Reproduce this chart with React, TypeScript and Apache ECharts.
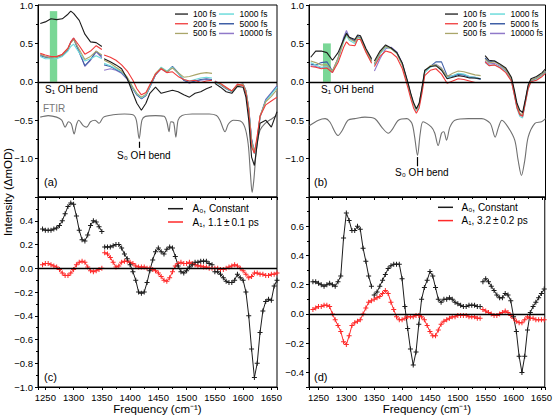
import React, { useEffect, useRef } from "react";
import * as echarts from "echarts";

// ---------- Panel (a) transient spectra ----------
const aX1 = [1241, 1250, 1260, 1270, 1280, 1290, 1295, 1300, 1310, 1320, 1330, 1340, 1350];
const aX2 = [1354, 1365, 1375, 1385, 1395, 1405, 1412, 1420, 1428, 1435, 1445, 1455, 1465, 1475, 1485, 1495, 1505, 1515, 1525, 1535, 1545];
const aX3 = [1550, 1560, 1570, 1580, 1590, 1600, 1605, 1610, 1615, 1620, 1625, 1630, 1640, 1650, 1660];

const a100_1 = [0.76, 0.78, 0.82, 0.81, 0.82, 0.88, 0.92, 0.89, 0.80, 0.62, 0.52, 0.51, 0.46];
const a200_1 = [0.37, 0.35, 0.33, 0.33, 0.36, 0.44, 0.52, 0.57, 0.47, 0.36, 0.40, 0.47, 0.42];
const a500_1 = [0.36, 0.33, 0.31, 0.32, 0.35, 0.43, 0.51, 0.55, 0.42, 0.29, 0.33, 0.40, 0.35];
const a1000_1 = [0.33, 0.30, 0.30, 0.30, 0.33, 0.40, 0.46, 0.49, 0.38, 0.27, 0.30, 0.34, 0.30];
const a5000_1 = [0.34, 0.32, 0.31, 0.32, 0.34, 0.42, 0.51, 0.56, 0.38, 0.21, 0.29, 0.40, 0.33];
const a10000_1 = [0.35, 0.33, 0.32, 0.33, 0.35, 0.43, 0.52, 0.57, 0.40, 0.20, 0.28, 0.39, 0.31];

const a100_2 = [0.30, 0.26, 0.22, 0.17, 0.04, -0.15, -0.28, -0.37, -0.28, -0.15, -0.07, -0.15, -0.13, -0.11, -0.13, -0.17, -0.20, -0.15, -0.13, -0.09, -0.06];
const a200_2 = [0.35, 0.32, 0.28, 0.22, 0.14, 0.02, -0.09, -0.17, -0.14, -0.04, 0.10, 0.17, 0.12, 0.13, 0.07, 0.03, 0.01, 0.02, -0.01, 0.01, 0.02];
const a500_2 = [0.28, 0.24, 0.19, 0.14, 0.06, -0.07, -0.15, -0.20, -0.16, -0.05, 0.11, 0.18, 0.13, 0.18, 0.12, 0.06, 0.07, 0.09, 0.11, 0.12, 0.11];
const a1000_2 = [0.24, 0.21, 0.17, 0.13, 0.05, -0.08, -0.16, -0.21, -0.17, -0.06, 0.10, 0.19, 0.14, 0.19, 0.11, 0.03, 0.01, 0.03, 0.05, 0.06, 0.05];
const a5000_2 = [0.22, 0.20, 0.16, 0.12, 0.04, -0.09, -0.17, -0.22, -0.18, -0.07, 0.09, 0.18, 0.13, 0.20, 0.12, 0.02, -0.01, 0.01, 0.03, 0.04, 0.03];
const a10000_2 = [0.15, 0.17, 0.15, 0.11, 0.03, -0.09, -0.17, -0.22, -0.18, -0.07, 0.09, 0.17, 0.12, 0.19, 0.11, 0.02, -0.02, 0.01, 0.02, 0.03, 0.02];

const a100_3 = [-0.02, -0.07, -0.13, -0.15, -0.06, -0.07, -0.20, -0.50, -0.98, -1.09, -0.81, -0.54, -0.50, -0.59, -0.39];
const a200_3 = [0.00, -0.02, -0.07, -0.12, -0.03, -0.05, -0.15, -0.40, -0.85, -0.93, -0.70, -0.45, -0.30, -0.25, -0.20];
const a500_3 = [0.00, -0.03, -0.08, -0.12, -0.05, -0.03, -0.12, -0.35, -0.78, -0.92, -0.74, -0.44, -0.26, -0.19, -0.10];
const a1000_3 = [-0.01, -0.03, -0.08, -0.13, -0.05, -0.04, -0.13, -0.36, -0.78, -0.94, -0.76, -0.46, -0.25, -0.16, -0.07];
const a5000_3 = [0.00, -0.04, -0.09, -0.13, -0.05, -0.03, -0.12, -0.35, -0.75, -0.93, -0.77, -0.46, -0.24, -0.15, -0.06];
const a10000_3 = [0.01, -0.03, -0.08, -0.12, -0.04, -0.03, -0.11, -0.34, -0.74, -0.91, -0.75, -0.45, -0.23, -0.14, -0.05];

const ftirAX = [1241, 1255, 1270, 1279, 1285, 1291, 1296, 1301, 1305, 1309, 1317, 1323, 1330, 1338, 1345, 1353, 1370, 1390, 1405, 1411, 1416, 1421, 1427, 1445, 1460, 1465, 1469, 1472, 1477, 1481, 1485, 1492, 1510, 1540, 1553, 1559, 1568, 1574, 1583, 1595, 1603, 1609, 1613, 1616, 1619, 1624, 1630, 1639, 1651, 1660];
const ftirA = [-0.46, -0.44, -0.46, -0.50, -0.59, -0.52, -0.55, -0.68, -0.56, -0.50, -0.57, -0.59, -0.52, -0.50, -0.54, -0.46, -0.43, -0.42, -0.43, -0.50, -0.74, -0.50, -0.45, -0.44, -0.45, -0.52, -0.65, -0.52, -0.53, -0.72, -0.50, -0.44, -0.42, -0.42, -0.44, -0.50, -0.65, -0.55, -0.50, -0.51, -0.59, -0.81, -1.20, -1.44, -1.28, -0.85, -0.63, -0.54, -0.48, -0.44];

// ---------- Panel (b) transient spectra ----------
const bX1 = [1236, 1245, 1255, 1265, 1275, 1285, 1295, 1300, 1305, 1315, 1320, 1325, 1335, 1345];
const bX2 = [1350, 1360, 1370, 1380, 1390, 1400, 1410, 1415, 1420, 1425, 1430, 1435, 1440, 1450, 1460, 1470, 1480, 1490, 1500, 1510, 1520, 1530, 1540];
const bX3 = [1548, 1555, 1565, 1575, 1585, 1595, 1600, 1605, 1610, 1615, 1620, 1625, 1630, 1640, 1650, 1656];

const b100_1 = [0.32, 0.40, 0.40, 0.38, 0.28, 0.38, 0.55, 0.63, 0.58, 0.55, 0.61, 0.60, 0.43, 0.30];
const b200_1 = [0.20, 0.19, 0.17, 0.18, 0.12, 0.25, 0.45, 0.52, 0.48, 0.47, 0.55, 0.55, 0.38, 0.24];
const b500_1 = [0.27, 0.25, 0.22, 0.22, 0.14, 0.31, 0.54, 0.62, 0.56, 0.52, 0.58, 0.57, 0.40, 0.27];
const b1000_1 = [0.25, 0.22, 0.19, 0.20, 0.13, 0.29, 0.52, 0.60, 0.54, 0.50, 0.56, 0.56, 0.39, 0.26];
const b5000_1 = [0.23, 0.22, 0.25, 0.26, 0.14, 0.30, 0.56, 0.64, 0.57, 0.53, 0.59, 0.58, 0.41, 0.28];
const b10000_1 = [0.21, 0.20, 0.18, 0.20, 0.12, 0.31, 0.58, 0.67, 0.58, 0.53, 0.58, 0.57, 0.40, 0.27];

const b100_2 = [0.27, 0.40, 0.48, 0.44, 0.38, 0.24, -0.01, -0.15, -0.27, -0.35, -0.28, -0.08, 0.15, 0.20, 0.21, 0.15, 0.04, 0.06, 0.08, 0.07, 0.05, 0.05, 0.04];
const b200_2 = [0.20, 0.33, 0.40, 0.38, 0.32, 0.17, -0.08, -0.22, -0.34, -0.41, -0.34, -0.15, 0.08, 0.15, 0.17, 0.10, -0.02, 0.01, 0.04, 0.03, 0.01, -0.01, -0.01];
const b500_2 = [0.24, 0.38, 0.46, 0.43, 0.37, 0.22, -0.03, -0.17, -0.29, -0.36, -0.29, -0.09, 0.14, 0.21, 0.22, 0.17, 0.07, 0.11, 0.14, 0.13, 0.11, 0.09, 0.08];
const b1000_2 = [0.22, 0.36, 0.45, 0.43, 0.37, 0.22, -0.04, -0.18, -0.30, -0.38, -0.31, -0.11, 0.12, 0.19, 0.22, 0.17, 0.05, 0.08, 0.11, 0.10, 0.07, 0.06, 0.04];
const b5000_2 = [0.23, 0.37, 0.46, 0.44, 0.38, 0.23, -0.03, -0.17, -0.29, -0.37, -0.30, -0.10, 0.13, 0.20, 0.26, 0.26, 0.08, 0.07, 0.10, 0.09, 0.06, 0.05, 0.03];
const b10000_2 = [0.14, 0.30, 0.43, 0.45, 0.39, 0.24, -0.02, -0.16, -0.29, -0.37, -0.30, -0.10, 0.13, 0.20, 0.23, 0.18, 0.06, 0.08, 0.10, 0.09, 0.07, 0.06, 0.04];

const b100_3 = [0.34, 0.28, 0.27, 0.23, 0.18, 0.06, -0.10, -0.28, -0.37, -0.40, -0.23, -0.04, 0.04, 0.07, 0.12, 0.17];
const b200_3 = [0.26, 0.21, 0.22, 0.18, 0.12, 0.01, -0.16, -0.34, -0.43, -0.45, -0.27, -0.09, 0.00, 0.02, 0.07, 0.11];
const b500_3 = [0.29, 0.25, 0.26, 0.22, 0.16, 0.04, -0.13, -0.31, -0.41, -0.43, -0.25, -0.06, 0.02, 0.05, 0.10, 0.14];
const b1000_3 = [0.25, 0.21, 0.22, 0.19, 0.13, 0.01, -0.16, -0.35, -0.45, -0.47, -0.28, -0.09, 0.00, 0.03, 0.08, 0.12];
const b5000_3 = [0.31, 0.26, 0.27, 0.22, 0.16, 0.04, -0.13, -0.32, -0.42, -0.44, -0.25, -0.06, 0.02, 0.05, 0.10, 0.14];
const b10000_3 = [0.27, 0.23, 0.24, 0.20, 0.14, 0.02, -0.15, -0.33, -0.43, -0.45, -0.26, -0.07, 0.01, 0.04, 0.09, 0.13];

const ftirBX = [1234, 1250, 1262, 1270, 1285, 1291, 1303, 1315, 1333, 1351, 1363, 1375, 1381, 1393, 1408, 1417, 1422, 1427, 1432, 1437, 1452, 1458, 1464, 1470, 1474, 1479, 1485, 1494, 1518, 1542, 1557, 1566, 1572, 1578, 1589, 1601, 1607, 1613, 1619, 1625, 1637, 1649, 1656];
const ftirB = [-0.57, -0.50, -0.48, -0.52, -0.70, -0.65, -0.50, -0.48, -0.46, -0.48, -0.59, -0.67, -0.63, -0.50, -0.48, -0.54, -0.72, -0.96, -0.67, -0.52, -0.59, -0.67, -0.83, -0.67, -0.65, -0.76, -0.59, -0.50, -0.48, -0.48, -0.54, -0.72, -0.59, -0.50, -0.59, -0.76, -1.02, -1.22, -1.02, -0.72, -0.54, -0.52, -0.48];

// ---------- Panel (c) global-fit amplitudes ----------
const cX1 = [1245, 1250, 1255, 1260, 1265, 1270, 1275, 1280, 1285, 1290, 1295, 1300, 1305, 1310, 1315, 1320, 1325, 1330, 1335, 1340, 1345, 1350];
const cX2 = [1355, 1360, 1365, 1370, 1375, 1380, 1385, 1390, 1395, 1400, 1405, 1410, 1415, 1420, 1425, 1430, 1435, 1440, 1445, 1450, 1455, 1460, 1465, 1470, 1475, 1480, 1485, 1490, 1495, 1500, 1505, 1510, 1515, 1520, 1525, 1530, 1535, 1540, 1545];
const cX3 = [1550, 1555, 1560, 1565, 1570, 1575, 1580, 1585, 1590, 1595, 1600, 1605, 1610, 1615, 1620, 1625, 1630, 1635, 1640, 1645, 1650, 1655, 1660];

const cA0_1 = [0.33, 0.32, 0.32, 0.32, 0.33, 0.34, 0.36, 0.40, 0.46, 0.52, 0.55, 0.54, 0.44, 0.32, 0.24, 0.23, 0.28, 0.36, 0.40, 0.39, 0.35, 0.31];
const cA1_1 = [0.03, 0.04, 0.04, 0.03, 0.02, 0.01, -0.01, -0.04, -0.06, -0.06, -0.04, -0.01, 0.03, 0.05, 0.06, 0.05, 0.01, -0.02, -0.03, -0.02, -0.01, 0.00];
const cA0_2 = [0.18, 0.18, 0.18, 0.19, 0.20, 0.20, 0.17, 0.12, 0.08, 0.03, -0.03, -0.10, -0.20, -0.21, -0.20, -0.12, -0.02, 0.07, 0.14, 0.17, 0.14, 0.12, 0.16, 0.18, 0.17, 0.10, 0.02, -0.03, -0.04, -0.02, 0.01, 0.03, 0.05, 0.05, 0.06, 0.06, 0.06, 0.04, 0.03];
const cA1_2 = [0.13, 0.12, 0.09, 0.05, 0.01, 0.02, 0.05, 0.06, 0.06, 0.05, 0.04, 0.02, 0.01, 0.01, 0.01, 0.00, 0.00, -0.01, -0.02, -0.04, -0.07, -0.10, -0.11, -0.08, -0.03, 0.02, 0.04, 0.05, 0.04, 0.04, 0.05, 0.04, 0.03, 0.02, 0.02, 0.01, 0.01, 0.00, 0.00];
const cA0_3 = [-0.03, -0.03, -0.05, -0.08, -0.11, -0.12, -0.12, -0.10, -0.05, -0.08, -0.10, -0.20, -0.40, -0.68, -0.92, -0.80, -0.54, -0.36, -0.28, -0.26, -0.27, -0.15, -0.10];
const cA1_3 = [0.00, 0.00, -0.01, -0.01, 0.00, 0.01, 0.02, 0.03, 0.02, 0.00, -0.02, -0.05, -0.08, -0.07, -0.04, -0.04, -0.05, -0.05, -0.06, -0.06, -0.05, -0.05, -0.04];

// ---------- Panel (d) global-fit amplitudes ----------
const dX1 = [1240, 1245, 1250, 1255, 1260, 1265, 1270, 1275, 1280, 1285, 1290, 1295, 1300, 1305, 1310, 1315, 1320, 1325, 1330, 1335, 1340, 1345];
const dX2 = [1350, 1355, 1360, 1365, 1370, 1375, 1380, 1385, 1390, 1395, 1400, 1405, 1410, 1415, 1420, 1425, 1430, 1435, 1440, 1445, 1450, 1455, 1460, 1465, 1470, 1475, 1480, 1485, 1490, 1495, 1500, 1505, 1510, 1515, 1520, 1525, 1530, 1535, 1540];
const dX3 = [1545, 1550, 1555, 1560, 1565, 1570, 1575, 1580, 1585, 1590, 1595, 1600, 1605, 1610, 1615, 1620, 1625, 1630, 1635, 1640, 1645, 1650, 1655];

const dA0_1 = [0.22, 0.22, 0.21, 0.20, 0.19, 0.20, 0.21, 0.20, 0.19, 0.22, 0.26, 0.52, 0.69, 0.64, 0.57, 0.57, 0.60, 0.58, 0.45, 0.36, 0.26, 0.19];
const dA1_1 = [0.03, 0.04, 0.05, 0.05, 0.06, 0.06, 0.05, 0.00, -0.04, -0.08, -0.12, -0.19, -0.21, -0.15, -0.08, -0.06, -0.05, -0.04, 0.00, 0.04, 0.08, 0.09];
const dA0_2 = [0.13, 0.15, 0.19, 0.23, 0.27, 0.31, 0.33, 0.34, 0.34, 0.34, 0.24, 0.05, -0.10, -0.24, -0.35, -0.26, -0.07, 0.10, 0.18, 0.23, 0.29, 0.26, 0.18, 0.10, 0.08, 0.10, 0.10, 0.11, 0.10, 0.08, 0.07, 0.06, 0.05, 0.05, 0.06, 0.06, 0.06, 0.05, 0.05];
const dA1_2 = [0.10, 0.11, 0.12, 0.14, 0.16, 0.14, 0.08, 0.03, -0.02, -0.04, -0.04, -0.03, -0.02, -0.02, -0.02, -0.01, -0.01, -0.02, -0.04, -0.08, -0.12, -0.15, -0.15, -0.11, -0.07, -0.05, -0.04, -0.03, -0.02, -0.02, -0.01, -0.01, -0.01, -0.01, -0.02, -0.02, -0.02, -0.03, -0.03];
const dA0_3 = [0.22, 0.24, 0.22, 0.19, 0.16, 0.13, 0.11, 0.11, 0.14, 0.13, 0.09, -0.02, -0.12, -0.29, -0.40, -0.29, -0.11, 0.01, 0.05, 0.08, 0.11, 0.14, 0.17];
const dA1_3 = [0.03, 0.02, 0.01, 0.00, -0.01, -0.01, 0.00, 0.01, 0.02, 0.01, -0.01, -0.03, -0.05, -0.06, -0.06, -0.04, -0.02, -0.03, -0.03, -0.04, -0.04, -0.04, -0.04];

// ---------- Labels ----------
const delayNames = ["100 fs", "200 fs", "500 fs", "1000 fs", "5000 fs", "10000 fs"];
const delayColors = ["#1c1c1c", "#f03a3a", "#aaa66a", "#6fdcdc", "#3f5fa6", "#9079c9"];
const fitNamesC = ["A\u2080, Constant", "A\u2081, 1.1\u2009\u00b1\u20090.1 ps"];
const fitNamesD = ["A\u2080, Constant", "A\u2081, 3.2\u2009\u00b1\u20090.2 ps"];
const xTitle = "Frequency (cm\u207b\u00b9)";
const yTitle = "Intensity (\u0394mOD)";

const FONT = '"Liberation Sans", Arial, Helvetica, sans-serif';
const PLUS = "path://M2,0H3V2H5V3H3V5H2V3H0V2H2Z";
const LINE_ICON = "path://M0,0H20V2H0Z";

function joinSegs(segs: [number[], number[]][]) {
  const out: any[] = [];
  segs.forEach(([xs, ys], k) => {
    if (k > 0) out.push([xs[0] - 1, "-"]);
    xs.forEach((x, i) => out.push([x, ys[i]]));
  });
  return out;
}

const fmtY = (v: number) => (Math.abs(v) < 1e-9 ? "0.0" : v.toFixed(1).replace("-", "\u2212"));
const fmtX = (v: number) => String(Math.round(v));

function xAxis(gridIndex: number, min: number, max: number, labels: boolean) {
  return {
    type: "value",
    gridIndex,
    min,
    max,
    splitNumber: 8,
    axisLine: { show: true, onZero: false, lineStyle: { color: "#000", width: 1 } },
    axisTick: { show: true, length: 3, lineStyle: { color: "#000" } },
    minorTick: { show: true, splitNumber: 2, length: 2, lineStyle: { color: "#000" } },
    splitLine: { show: false },
    axisLabel: {
      show: labels,
      showMinLabel: false,
      showMaxLabel: false,
      color: "#000",
      fontSize: 9.5,
      fontFamily: FONT,
      margin: 5,
      formatter: fmtX,
    },
    name: labels ? xTitle : "",
    nameLocation: "middle",
    nameGap: 16,
    nameTextStyle: { color: "#000", fontSize: 11.5, fontFamily: FONT },
  };
}

function yAxis(gridIndex: number, min: number, max: number, extra: any, showMin: boolean, showMax: boolean) {
  return {
    type: "value",
    gridIndex,
    min,
    max,
    ...extra,
    axisLine: { show: true, onZero: false, lineStyle: { color: "#000", width: 1 } },
    axisTick: { show: true, length: 3, lineStyle: { color: "#000" } },
    minorTick: { show: true, splitNumber: 2, length: 2, lineStyle: { color: "#000" } },
    splitLine: { show: false },
    axisLabel: {
      color: "#000",
      fontSize: 9.5,
      fontFamily: FONT,
      margin: 5,
      formatter: fmtY,
      showMinLabel: showMin,
      showMaxLabel: showMax,
    },
  };
}

const zeroLine = {
  silent: true,
  symbol: ["none", "none"],
  label: { show: false },
  lineStyle: { color: "#000", width: 1.4, type: "solid" },
  data: [{ yAxis: 0 }],
};

function trace(name: string, idx: number, data: any[], color: string, extra: any = {}) {
  return {
    type: "line",
    name,
    xAxisIndex: idx,
    yAxisIndex: idx,
    data,
    symbol: "none",
    connectNulls: false,
    lineStyle: { color, width: 1.1 },
    itemStyle: { color },
    emphasis: { disabled: true },
    ...extra,
  };
}

function fit(name: string, idx: number, data: any[], color: string, extra: any = {}) {
  return {
    type: "line",
    name,
    xAxisIndex: idx,
    yAxisIndex: idx,
    data,
    symbol: PLUS,
    symbolSize: 5,
    connectNulls: false,
    lineStyle: { color, width: 1 },
    itemStyle: { color },
    emphasis: { disabled: true },
    ...extra,
  };
}

function buildOption() {
  const aSets = [
    [a100_1, a100_2, a100_3],
    [a200_1, a200_2, a200_3],
    [a500_1, a500_2, a500_3],
    [a1000_1, a1000_2, a1000_3],
    [a5000_1, a5000_2, a5000_3],
    [a10000_1, a10000_2, a10000_3],
  ];
  const bSets = [
    [b100_1, b100_2, b100_3],
    [b200_1, b200_2, b200_3],
    [b500_1, b500_2, b500_3],
    [b1000_1, b1000_2, b1000_3],
    [b5000_1, b5000_2, b5000_3],
    [b10000_1, b10000_2, b10000_3],
  ];

  const series: any[] = [];
  // Panel (a)
  series.push(
    trace("FTIR", 0, joinSegs([[ftirAX, ftirA]]), "#707070", {
      smooth: 0.3,
      markLine: {
        silent: true,
        symbol: ["none", "none"],
        label: { show: false },
        lineStyle: { color: "#000", width: 1.2, type: "solid" },
        data: [[{ coord: [1416, -0.78] }, { coord: [1416, -0.86] }]],
      },
    })
  );
  for (let i = 5; i >= 0; i--) {
    const s = aSets[i];
    const extra: any = {};
    if (i === 0) {
      extra.markLine = zeroLine;
      extra.markArea = {
        silent: true,
        itemStyle: { color: "rgba(70,200,110,0.72)" },
        data: [[{ coord: [1258, 0] }, { coord: [1271, 0.92] }]],
      };
    }
    series.push(trace(delayNames[i], 0, joinSegs([[aX1, s[0]], [aX2, s[1]], [aX3, s[2]]]), delayColors[i], extra));
  }
  // Panel (b)
  series.push(
    trace("FTIR", 1, joinSegs([[ftirBX, ftirB]]), "#707070", {
      smooth: 0.3,
      markLine: {
        silent: true,
        symbol: ["none", "none"],
        label: { show: false },
        lineStyle: { color: "#000", width: 1.2, type: "solid" },
        data: [[{ coord: [1427, -0.98] }, { coord: [1427, -1.1] }]],
      },
    })
  );
  for (let i = 5; i >= 0; i--) {
    const s = bSets[i];
    const extra: any = {};
    if (i === 0) {
      extra.markLine = zeroLine;
      extra.markArea = {
        silent: true,
        itemStyle: { color: "rgba(70,200,110,0.72)" },
        data: [[{ coord: [1258, 0] }, { coord: [1272, 0.5] }]],
      };
    }
    series.push(trace(delayNames[i], 1, joinSegs([[bX1, s[0]], [bX2, s[1]], [bX3, s[2]]]), delayColors[i], extra));
  }
  // Panel (c)
  series.push(fit(fitNamesC[1], 2, joinSegs([[cX1, cA1_1], [cX2, cA1_2], [cX3, cA1_3]]), "#ff2a2a"));
  series.push(
    fit(fitNamesC[0], 2, joinSegs([[cX1, cA0_1], [cX2, cA0_2], [cX3, cA0_3]]), "#1c1c1c", { markLine: zeroLine })
  );
  // Panel (d)
  series.push(fit(fitNamesD[1], 3, joinSegs([[dX1, dA1_1], [dX2, dA1_2], [dX3, dA1_3]]), "#ff2a2a"));
  series.push(
    fit(fitNamesD[0], 3, joinSegs([[dX1, dA0_1], [dX2, dA0_2], [dX3, dA0_3]]), "#1c1c1c", { markLine: zeroLine })
  );

  const smallLegend = (data: string[], left: number, w: number, gap: number) => ({
    data,
    left,
    top: 9.2,
    padding: 0,
    orient: "vertical",
    icon: LINE_ICON,
    itemGap: 0,
    itemWidth: w,
    itemHeight: 1.5,
    itemTextGap: gap,
    selectedMode: false,
    textStyle: { fontSize: 8.5, fontFamily: FONT, color: "#000", lineHeight: 9.7 },
  });
  const fitLegend = (data: string[], left: number, top: number, w: number) => ({
    data,
    left,
    top,
    padding: 0,
    orient: "vertical",
    icon: LINE_ICON,
    itemGap: 3.3,
    itemWidth: w,
    itemHeight: 1.5,
    itemTextGap: 2,
    selectedMode: false,
    textStyle: { fontSize: 10, fontFamily: FONT, color: "#000", lineHeight: 10 },
  });

  const txt = (text: string, x: number, y: number, size = 10.5, fill = "#000") => ({
    type: "text",
    x,
    y,
    silent: true,
    style: { text, fontSize: size, fontFamily: FONT, fill, align: "left", verticalAlign: "middle" },
  });

  return {
    animation: false,
    backgroundColor: "#fff",
    textStyle: { fontFamily: FONT },
    grid: [
      { left: 38, top: 5, width: 239, height: 192, show: true, borderColor: "#000", borderWidth: 1, backgroundColor: "transparent" },
      { left: 309, top: 5, width: 236.5, height: 192, show: true, borderColor: "#000", borderWidth: 1, backgroundColor: "transparent" },
      { left: 38, top: 197, width: 239, height: 190, show: true, borderColor: "#000", borderWidth: 1, backgroundColor: "transparent" },
      { left: 309, top: 197, width: 236.5, height: 190, show: true, borderColor: "#000", borderWidth: 1, backgroundColor: "transparent" },
    ],
    xAxis: [
      xAxis(0, 1237, 1660, false),
      xAxis(1, 1233, 1656, false),
      xAxis(2, 1237, 1660, true),
      xAxis(3, 1233, 1656, true),
    ],
    yAxis: [
      yAxis(0, -1.5, 1.0, { interval: 0.5 }, false, true),
      yAxis(1, -1.5, 1.0, { interval: 0.5 }, false, true),
      yAxis(2, -1.0, 0.6, { interval: 0.2 }, true, false),
      yAxis(3, -0.5, 0.8, { splitNumber: 6 }, false, false),
    ],
    legend: [
      smallLegend(delayNames.slice(0, 3), 175, 13, 2),
      smallLegend(delayNames.slice(3), 219, 16, 3),
      smallLegend(delayNames.slice(0, 3), 445, 13, 2),
      smallLegend(delayNames.slice(3), 490, 16, 2),
      fitLegend(fitNamesC, 168, 203.7, 24),
      fitLegend(fitNamesD, 438, 202.3, 22),
    ],
    graphic: [
      txt("(a)", 44, 182, 11),
      txt("(b)", 314, 182, 11),
      txt("(c)", 44, 377, 11),
      txt("(d)", 314, 377, 11),
      txt("S\u2081 OH bend", 45, 89, 10),
      txt("S\u2081 OH bend", 321, 89, 10),
      txt("S\u2080 OH bend", 117, 155, 10),
      txt("S\u2080 OH bend", 395, 172, 10),
      txt("FTIR", 43, 108, 10, "#777"),
      {
        type: "text",
        x: 8,
        y: 192,
        rotation: Math.PI / 2,
        silent: true,
        style: { text: yTitle, fontSize: 11.5, fontFamily: FONT, fill: "#000", align: "center", verticalAlign: "middle" },
      },
    ],
    series,
  };
}

export default function App() {
  const ref = useRef<HTMLDivElement>(null);
  useEffect(() => {
    if (!ref.current) return;
    const chart = echarts.init(ref.current, null, { renderer: "svg" });
    chart.setOption(buildOption() as any);
    return () => chart.dispose();
  }, []);
  return (
    <div
      ref={ref}
      style={{ position: "absolute", left: 0, top: 0, width: 555, height: 420, background: "#fff" }}
    />
  );
}
